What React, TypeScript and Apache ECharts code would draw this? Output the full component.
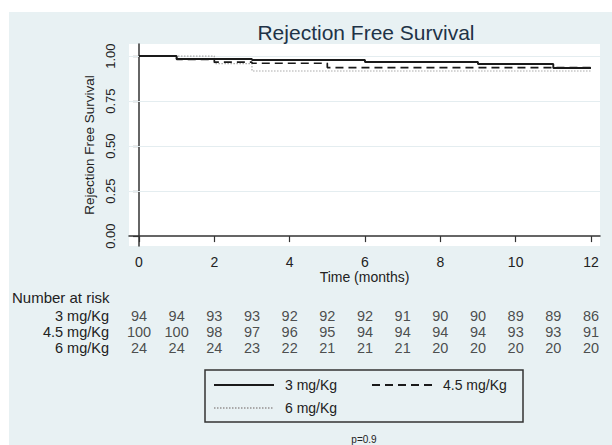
import React, { useEffect, useRef } from "react";
import * as echarts from "echarts";

const FONT = "'Liberation Sans', Arial, Helvetica, sans-serif";

// Axes
const xTicks = [0, 2, 4, 6, 8, 10, 12];
const yTicks = [0, 0.25, 0.5, 0.75, 1];
const gridValues = [0.25, 0.5, 0.75, 1];

// Kaplan-Meier steps (time in months, survival)
const time3 = [0, 1, 3, 6, 9, 11, 12];
const surv3 = [1, 0.984, 0.978, 0.967, 0.956, 0.934, 0.934];
const time45 = [0, 1, 2, 3, 5, 12];
const surv45 = [1, 0.982, 0.966, 0.96, 0.936, 0.936];
const time6 = [0, 2, 3, 12];
const surv6 = [1, 0.958, 0.917, 0.917];

// Number at risk table
const riskMonths = [0, 1, 2, 3, 4, 5, 6, 7, 8, 9, 10, 11, 12];
const groupNames = ["3 mg/Kg", "4.5 mg/Kg", "6 mg/Kg"];
const risk3 = [94, 94, 93, 93, 92, 92, 92, 91, 90, 90, 89, 89, 86];
const risk45 = [100, 100, 98, 97, 96, 95, 94, 94, 94, 94, 93, 93, 91];
const risk6 = [24, 24, 24, 23, 22, 21, 21, 21, 20, 20, 20, 20, 20];

const X_MIN = -0.265;
const X_MAX = 12.24;
const Y_MIN = -0.055;
const Y_MAX = 1.067;

const TXT = "#222";
const AXIS = "#333";

function pairs(t: number[], s: number[]) {
  return t.map((v, i) => [v, s[i]]);
}

const legendCommon = {
  orient: "vertical",
  itemGap: 9,
  itemWidth: 60,
  itemHeight: 14,
  borderWidth: 0,
  itemStyle: { opacity: 0 },
  textStyle: {
    fontFamily: FONT,
    fontSize: 14,
    color: TXT,
    padding: [0, 0, 0, 6],
  },
};

export default function App() {
  const ref = useRef<HTMLDivElement>(null);

  useEffect(() => {
    if (!ref.current) return;
    const chart = echarts.init(ref.current, null, { renderer: "svg" });
    const riskValues = [risk3, risk45, risk6];
    const tableData: any[] = [];
    riskValues.forEach((row, ri) => {
      row.forEach((v, i) => tableData.push([riskMonths[i], ri, v]));
    });

    chart.setOption({
      animation: false,
      backgroundColor: "#ffffff",
      textStyle: { fontFamily: FONT },
      title: {
        text: "Rejection Free Survival",
        left: 366,
        top: 22,
        textAlign: "center",
        padding: 0,
        textStyle: {
          fontFamily: FONT,
          fontSize: 21,
          fontWeight: "normal",
          color: "#1e3347",
        },
      },
      graphic: [
        {
          type: "rect",
          z: -10,
          silent: true,
          shape: { x: 9, y: 12, width: 612 - 9, height: 445 - 12 },
          style: { fill: "#e8f1f3" },
        },
        {
          type: "rect",
          silent: true,
          shape: { x: 205, y: 370, width: 318, height: 52 },
          style: { fill: "none", stroke: "#333", lineWidth: 1.5 },
        },
        {
          type: "text",
          left: 12,
          top: 290,
          style: {
            text: "Number at risk",
            font: `15px ${FONT}`,
            fill: TXT,
          },
        },
        {
          type: "text",
          x: 364,
          y: 439,
          style: {
            text: "p=0.9",
            font: `10px ${FONT}`,
            fill: TXT,
            textAlign: "center",
            textVerticalAlign: "middle",
          },
        },
      ],
      legend: [
        {
          ...legendCommon,
          left: 213,
          top: 378,
          padding: 0,
          data: [groupNames[0], groupNames[2]],
        },
        {
          ...legendCommon,
          left: 371,
          top: 378,
          padding: 0,
          data: [groupNames[1]],
        },
      ],
      grid: [
        {
          left: 129,
          right: 12,
          top: 44,
          bottom: 445 - 246,
          show: true,
          backgroundColor: "#ffffff",
          borderWidth: 0,
        },
        {
          left: 129,
          right: 12,
          top: 308,
          height: 48,
          show: false,
        },
      ],
      xAxis: [
        {
          gridIndex: 0,
          type: "value",
          min: X_MIN,
          max: X_MAX,
          name: "Time (months)",
          nameLocation: "middle",
          nameGap: 24,
          nameTextStyle: { fontFamily: FONT, fontSize: 14, color: TXT },
          axisLine: { show: true, lineStyle: { color: AXIS, width: 1.5 } },
          axisTick: {
            show: true,
            length: 6,
            customValues: xTicks,
            lineStyle: { color: AXIS, width: 1.2 },
          },
          axisLabel: {
            customValues: xTicks,
            margin: 9,
            fontFamily: FONT,
            fontSize: 14,
            color: TXT,
          },
          splitLine: { show: false },
        },
        {
          gridIndex: 1,
          type: "value",
          min: X_MIN,
          max: X_MAX,
          show: false,
        },
      ],
      yAxis: [
        {
          gridIndex: 0,
          type: "value",
          min: Y_MIN,
          max: Y_MAX,
          name: "Rejection Free Survival",
          nameLocation: "middle",
          nameGap: 29,
          nameTextStyle: { fontFamily: FONT, fontSize: 13.5, color: TXT },
          axisLine: { show: true, lineStyle: { color: AXIS, width: 1.5 } },
          axisTick: {
            show: true,
            length: 6,
            customValues: yTicks,
            lineStyle: { color: AXIS, width: 1.2 },
          },
          axisLabel: {
            customValues: yTicks,
            rotate: 90,
            margin: 12,
            fontFamily: FONT,
            fontSize: 13,
            color: TXT,
            formatter: (v: number) => v.toFixed(2),
          },
          splitLine: { show: false },
        },
        {
          gridIndex: 1,
          type: "category",
          data: groupNames,
          inverse: true,
          axisLine: { show: false },
          axisTick: { show: false },
          axisLabel: {
            interval: 0,
            margin: 20,
            fontFamily: FONT,
            fontSize: 14.5,
            color: TXT,
          },
        },
      ],
      series: [
        {
          name: groupNames[0],
          type: "line",
          xAxisIndex: 0,
          yAxisIndex: 0,
          step: "end",
          symbol: "none",
          data: pairs(time3, surv3),
          lineStyle: { color: "#1a1a1a", width: 1.9, type: "solid" },
          itemStyle: { color: "#1a1a1a" },
          z: 5,
          markLine: {
            silent: true,
            symbol: ["none", "none"],
            label: { show: false },
            lineStyle: { color: "#e4edf0", width: 1, type: "solid" },
            data: gridValues.map((v) => ({ yAxis: v })),
            z: 1,
          },
        },
        {
          name: groupNames[1],
          type: "line",
          xAxisIndex: 0,
          yAxisIndex: 0,
          step: "end",
          symbol: "none",
          data: pairs(time45, surv45),
          lineStyle: { color: "#1a1a1a", width: 1.7, type: [8, 5] },
          itemStyle: { color: "#1a1a1a" },
          z: 4,
        },
        {
          name: groupNames[2],
          type: "line",
          xAxisIndex: 0,
          yAxisIndex: 0,
          step: "end",
          symbol: "none",
          data: pairs(time6, surv6),
          lineStyle: { color: "#a9a9a9", width: 1.2, type: [1.5, 1.5] },
          itemStyle: { color: "#a9a9a9" },
          z: 3,
        },
        {
          type: "scatter",
          xAxisIndex: 1,
          yAxisIndex: 1,
          symbolSize: 0,
          silent: true,
          data: tableData,
          label: {
            show: true,
            position: "inside",
            fontFamily: FONT,
            fontSize: 14.5,
            color: TXT,
            formatter: (p: any) => String(p.value[2]),
          },
        },
      ],
    });
    return () => chart.dispose();
  }, []);

  return (
    <div
      ref={ref}
      style={{ position: "fixed", left: 0, top: 0, width: 612, height: 445 }}
    />
  );
}
